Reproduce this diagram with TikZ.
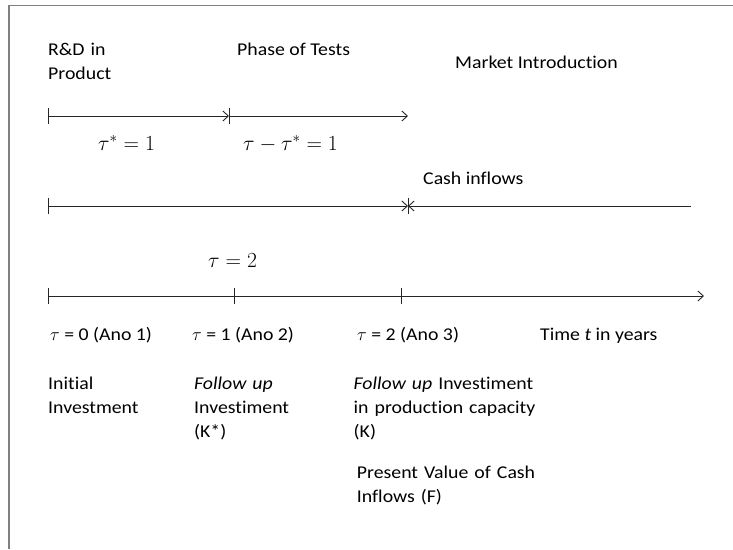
\documentclass[tikz,border=0pt]{standalone}
\usepackage{fix-cm}
\usepackage{fontspec}
\setmainfont{Carlito}[FakeStretch=1.1,Ligatures=NoCommon]
\usetikzlibrary{arrows.meta}
\begin{document}
\begin{tikzpicture}[x=1pt,y=-1pt,
  txt/.style={inner sep=0pt,anchor=base west,font=\fontsize{18}{24}\selectfont},
  para/.style={txt,text width=220pt,align=left},
  mathlbl/.style={inner sep=0pt,anchor=base west,font=\fontsize{21.5}{26}\selectfont},
  axis/.style={line width=0.9pt,draw=black!85},
  seg/.style={axis,{Bar[width=16pt,line width=0.9pt]}-{Straight Barb[length=5.5pt,width=10pt,line width=0.9pt]}},
  ray/.style={axis,-{Straight Barb[length=5.5pt,width=10pt,line width=0.9pt]}},
  frame/.style={line width=1.5pt,draw=black!50}]
\useasboundingbox (0,0) rectangle (733,549);

% page frame (left and top edges)
\coordinate (fb) at (9,549);
\coordinate (fc) at (9,5.5);
\coordinate (fr) at (733,5.5);
\draw[frame] (fb) -- (fc) -- (fr);

% phases
\coordinate (a0) at (48,116);
\coordinate (a1) at (229,116);
\coordinate (a2) at (408,116);
\draw[seg] (a0) -- (a1);
\draw[seg] (a1) -- (a2);

\node[para] (rd) at (48,55.7) {R\&D in\\Product};
\node[txt] (tests) at (237,55.7) {Phase of Tests};
\node[txt] (market) at (455,68) {Market Introduction};
\node[mathlbl] (t1) at (98,150) {$\tau^{*} = 1$};
\node[mathlbl] (t2) at (243,150) {$\tau - \tau^{*} = 1$};

% cash inflows
\coordinate (b0) at (48,206);
\coordinate (b1) at (408,206);
\coordinate (b2) at (691,206);
\draw[seg] (b0) -- (b1);
\draw[ray] (b2) -- (b1);
\draw[axis] (b1) ++(0,-8) -- ++(0,16);
\node[txt] (cash) at (423,184) {Cash inflows};
\node[mathlbl] (tau) at (208,267) {$\tau = 2$};

% time axis
\coordinate (c0) at (48,296);
\coordinate (c1) at (234,296);
\coordinate (c2) at (401,296);
\coordinate (c3) at (704,296);
\draw[ray] (c0) -- (c3);
\foreach \p in {c0,c1,c2}
  \draw[axis] (\p) ++(0,-8) -- ++(0,16);

\node[txt] (y0) at (50,340) {$\tau$ = 0 (Ano 1)};
\node[txt] (y1) at (192,340) {$\tau$ = 1 (Ano 2)};
\node[txt] (y2) at (357,340) {$\tau$ = 2 (Ano 3)};
\node[txt] (tt) at (540,340) {Time \textit{t} in years};

% investments
\node[para] (inv0) at (48,389) {Initial\\Investment};
\node[para] (inv1) at (194,389) {\textit{Follow up}\\Investiment\\(K*)};
\node[para] (inv2) at (353.5,389) {\textit{Follow up} Investiment\\in production capacity\\(K)};
\node[para] (pv) at (356.7,478) {Present Value of Cash\\Inflows (F)};
\end{tikzpicture}
\end{document}
